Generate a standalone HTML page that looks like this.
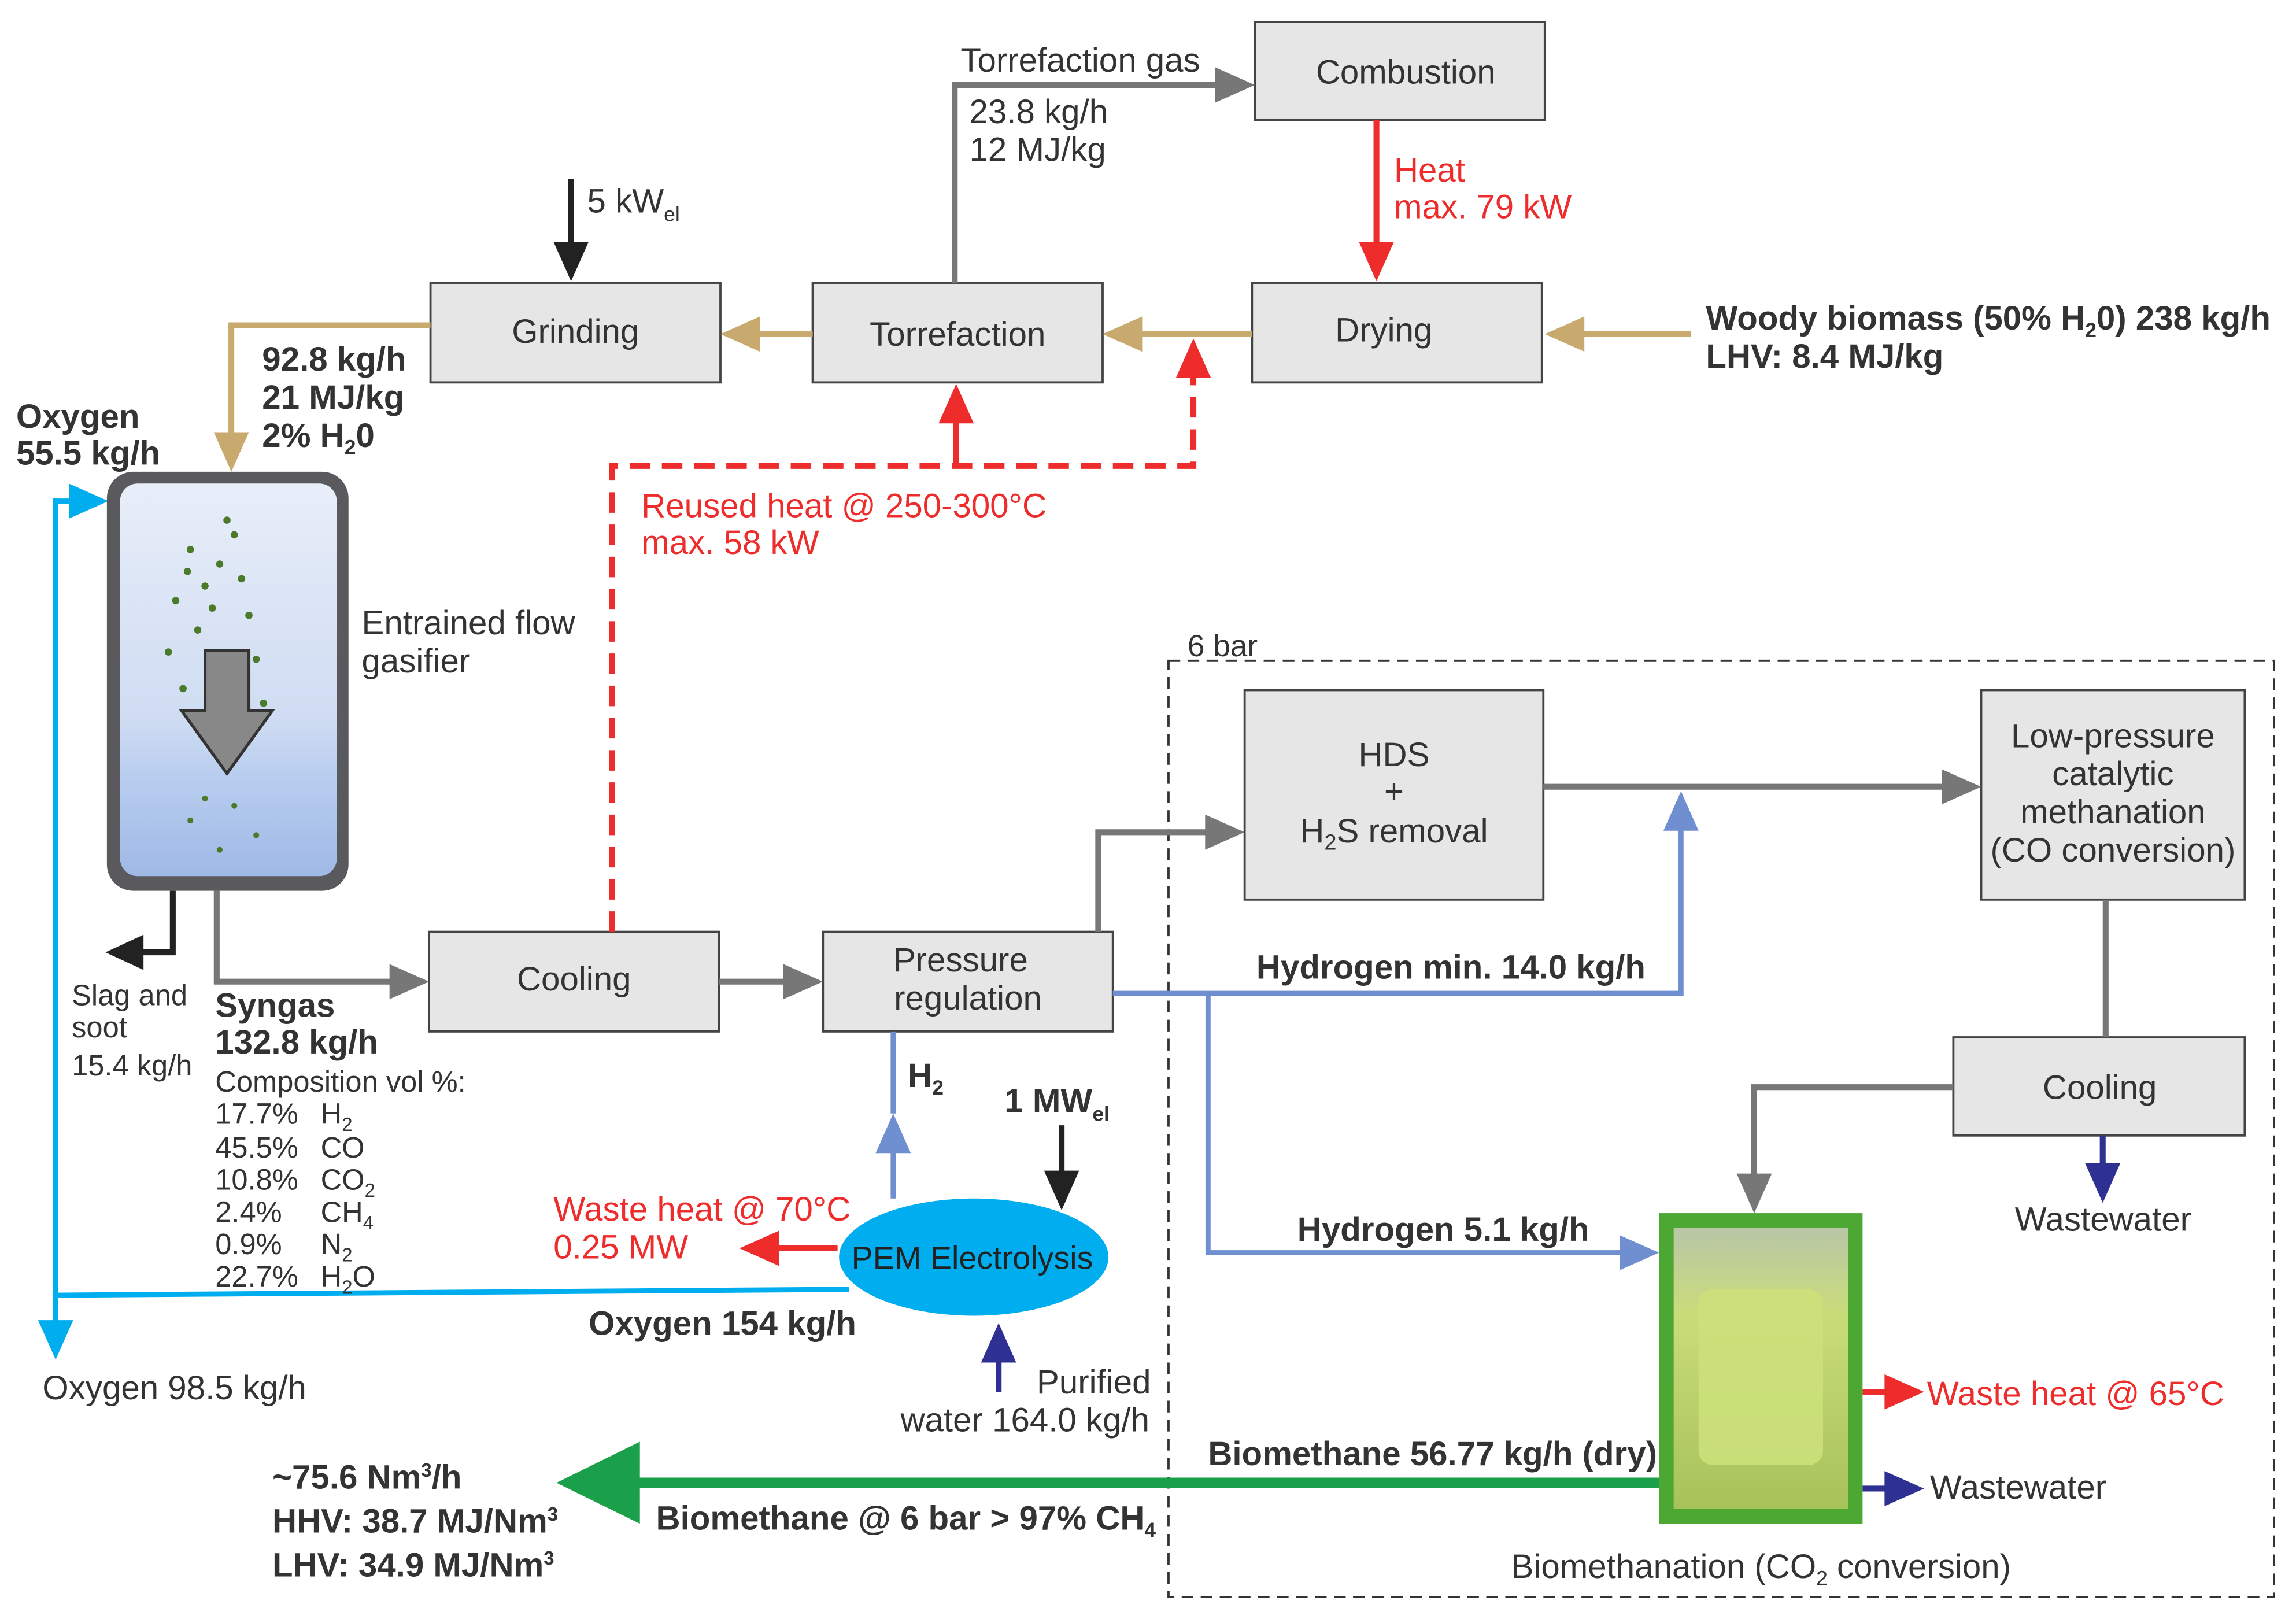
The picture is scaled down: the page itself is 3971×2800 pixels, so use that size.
<!DOCTYPE html>
<html><head><meta charset="utf-8"><style>
html,body{margin:0;padding:0;background:#fff;}
svg{display:block;}
text{font-family:"Liberation Sans",sans-serif;}
</style></head><body>
<svg width="3971" height="2800" viewBox="0 0 1568 1105" preserveAspectRatio="none" xmlns="http://www.w3.org/2000/svg">
<defs>
<linearGradient id="gb" x1="0" y1="0" x2="0" y2="1">
<stop offset="0" stop-color="#e8eef9"/><stop offset="0.6" stop-color="#cfdcf2"/><stop offset="0.75" stop-color="#b8cdef"/><stop offset="1" stop-color="#9fb9e6"/></linearGradient>
<linearGradient id="gr" x1="0" y1="0" x2="0" y2="1">
<stop offset="0" stop-color="#b9c6a8"/><stop offset="0.3" stop-color="#c9dc7a"/><stop offset="1" stop-color="#a8c25a"/></linearGradient>
</defs>
<rect width="1568" height="1105" fill="#fff"/>
<rect x="798" y="451" width="755" height="639" fill="none" stroke="#333" stroke-width="1.5" stroke-dasharray="8,5"/>
<text x="811" y="448" font-size="21" fill="#333">6 bar</text>
<g fill="#e6e6e7" stroke="#444" stroke-width="1.5">
<rect x="857" y="15" width="198" height="67"/>
<rect x="294" y="193" width="198" height="68"/>
<rect x="555" y="193" width="198" height="68"/>
<rect x="855" y="193" width="198" height="68"/>
<rect x="293" y="636" width="198" height="68"/>
<rect x="562" y="636" width="198" height="68"/>
<rect x="850" y="471" width="204" height="143"/>
<rect x="1353" y="471" width="180" height="143"/>
<rect x="1334" y="708" width="199" height="67"/>
</g>
<g font-size="23" fill="#333" text-anchor="middle">
<text x="960" y="57">Combustion</text>
<text x="393" y="234">Grinding</text>
<text x="654" y="236">Torrefaction</text>
<text x="945" y="233">Drying</text>
<text x="392" y="676">Cooling</text>
<text x="656" y="663">Pressure</text><text x="661" y="689">regulation</text>
<text x="952" y="523">HDS</text><text x="952" y="548">+</text><text x="952" y="575">H<tspan font-size="15" dy="5">2</tspan><tspan dy="-5">S removal</tspan></text>
<text x="1443" y="510">Low-pressure</text><text x="1443" y="536">catalytic</text><text x="1443" y="562">methanation</text><text x="1443" y="588">(CO conversion)</text>
<text x="1434" y="750">Cooling</text>
</g>
<g stroke="#c8a96e" stroke-width="4" fill="none">
<line x1="1155" y1="228" x2="1080" y2="228"/>
<line x1="855" y1="228" x2="778" y2="228"/>
<line x1="555" y1="228" x2="517" y2="228"/>
<polyline points="294,222 158,222 158,297"/>
</g>
<g fill="#c8a96e">
<polygon points="1055,228 1082,216 1082,240"/>
<polygon points="753,228 780,216 780,240"/>
<polygon points="492,228 519,216 519,240"/>
<polygon points="158,322 146,295 170,295"/>
</g>
<g stroke="#777" stroke-width="4" fill="none">
<polyline points="652,193 652,58 832,58"/>
<polyline points="148,608 148,670 268,670"/>
<line x1="491" y1="670" x2="537" y2="670"/>
<polyline points="750,636 750,568 825,568"/>
<line x1="1054" y1="537" x2="1328" y2="537"/>
<line x1="1438" y1="614" x2="1438" y2="708"/>
<polyline points="1334,742 1198,742 1198,803"/>
</g>
<g fill="#777">
<polygon points="857,58 830,46 830,70"/>
<polygon points="293,670 266,658 266,682"/>
<polygon points="562,670 535,658 535,682"/>
<polygon points="850,568 823,556 823,580"/>
<polygon points="1353,537 1326,525 1326,549"/>
<polygon points="1198,828 1186,801 1210,801"/>
</g>
<g stroke="#222" stroke-width="4" fill="none">
<line x1="390" y1="122" x2="390" y2="168"/>
<polyline points="118,608 118,650 95,650"/>
<line x1="725" y1="768" x2="725" y2="802"/>
</g>
<g fill="#222">
<polygon points="390,192 378,165 402,165"/>
<polygon points="72,650 98,638 98,662"/>
<polygon points="725,826 713,799 737,799"/>
</g>
<g stroke="#2e3192" stroke-width="4" fill="none">
<line x1="1436" y1="775" x2="1436" y2="797"/>
<line x1="1272" y1="1016" x2="1290" y2="1016"/>
<line x1="682" y1="950" x2="682" y2="927"/>
</g>
<g fill="#2e3192">
<polygon points="1436,821 1424,794 1448,794"/>
<polygon points="1314,1016 1287,1004 1287,1028"/>
<polygon points="682,903 670,930 694,930"/>
</g>
<g stroke="#ee2c2c" stroke-width="4" fill="none">
<line x1="940" y1="82" x2="940" y2="168"/>
<polyline points="418,636 418,318 815,318 815,258" stroke-dasharray="14,8"/>
<line x1="653" y1="318" x2="653" y2="285"/>
<line x1="572" y1="852" x2="530" y2="852"/>
<line x1="1272" y1="950" x2="1290" y2="950"/>
</g>
<g fill="#ee2c2c">
<polygon points="940,192 928,165 952,165"/>
<polygon points="815,231 803,258 827,258"/>
<polygon points="653,262 641,289 665,289"/>
<polygon points="505,852 532,840 532,864"/>
<polygon points="1314,950 1287,938 1287,962"/>
</g>
<g stroke="#6f8fd0" stroke-width="3.5" fill="none">
<polyline points="760,678 1148,678 1148,565"/>
<polyline points="825,678 825,855 1108,855"/>
<line x1="610" y1="818" x2="610" y2="785"/>
<line x1="610" y1="760" x2="610" y2="704"/>
</g>
<g fill="#6f8fd0">
<polygon points="1148,540 1136,567 1160,567"/>
<polygon points="1133,855 1106,843 1106,867"/>
<polygon points="610,760 598,787 622,787"/>
</g>
<g stroke="#00aeef" stroke-width="3.5" fill="none">
<polyline points="580,880 38,884"/>
<line x1="38" y1="340" x2="38" y2="905"/>
<line x1="38" y1="342" x2="50" y2="342"/>
</g>
<g fill="#00aeef">
<polygon points="74,342 47,330 47,354"/>
<polygon points="38,928 26,901 50,901"/>
</g>
<rect x="73" y="322" width="165" height="286" rx="18" fill="#5a5a5e"/>
<rect x="82" y="330" width="148" height="268" rx="12" fill="url(#gb)"/>
<g fill="#4a7a2a">
<circle cx="130" cy="375" r="2.5"/><circle cx="150" cy="385" r="2.5"/><circle cx="140" cy="400" r="2.5"/><circle cx="160" cy="365" r="2.5"/><circle cx="120" cy="410" r="2.5"/><circle cx="170" cy="420" r="2.5"/><circle cx="135" cy="430" r="2.5"/><circle cx="115" cy="445" r="2.5"/><circle cx="175" cy="450" r="2.5"/><circle cx="125" cy="470" r="2.5"/><circle cx="180" cy="480" r="2.5"/><circle cx="155" cy="355" r="2.5"/><circle cx="145" cy="415" r="2.5"/><circle cx="128" cy="390" r="2.5"/><circle cx="165" cy="395" r="2.5"/><circle cx="140" cy="545" r="2"/><circle cx="160" cy="550" r="2"/><circle cx="130" cy="560" r="2"/><circle cx="175" cy="570" r="2"/><circle cx="150" cy="580" r="2"/>
</g>
<polygon points="140,444 170,444 170,485 186,485 155,528 124,485 140,485" fill="#888" stroke="#333" stroke-width="2"/>
<ellipse cx="665" cy="858" rx="92" ry="40" fill="#00aeef"/>
<text x="664" y="866" font-size="22" fill="#222" text-anchor="middle">PEM Electrolysis</text>
<rect x="1133" y="828" width="139" height="212" fill="#4ca832"/>
<rect x="1143" y="838" width="119" height="192" fill="url(#gr)"/>
<rect x="1160" y="880" width="85" height="120" rx="10" fill="#cbe07a" opacity="0.9"/>
<line x1="1133" y1="1012" x2="435" y2="1012" stroke="#1aa04a" stroke-width="7"/>
<polygon points="380,1012 437,984 437,1040" fill="#1aa04a"/>
<g font-size="23" fill="#333">
<text x="656" y="49">Torrefaction gas</text>
<text x="662" y="84">23.8 kg/h</text>
<text x="662" y="110">12 MJ/kg</text>
<text x="401" y="145">5 kW<tspan font-size="14" dy="6">el</tspan></text>
<text x="247" y="433">Entrained flow</text>
<text x="247" y="459">gasifier</text>
<text x="49" y="686" font-size="20">Slag and</text>
<text x="49" y="708" font-size="20">soot</text>
<text x="49" y="734" font-size="20">15.4 kg/h</text>
<text x="147" y="745" font-size="20">Composition vol %:</text>
<g font-size="20">
<text x="147" y="767">17.7%</text><text x="219" y="767">H<tspan font-size="13" dy="5">2</tspan></text>
<text x="147" y="790">45.5%</text><text x="219" y="790">CO</text>
<text x="147" y="812">10.8%</text><text x="219" y="812">CO<tspan font-size="13" dy="5">2</tspan></text>
<text x="147" y="834">2.4%</text><text x="219" y="834">CH<tspan font-size="13" dy="5">4</tspan></text>
<text x="147" y="856">0.9%</text><text x="219" y="856">N<tspan font-size="13" dy="5">2</tspan></text>
<text x="147" y="878">22.7%</text><text x="219" y="878">H<tspan font-size="13" dy="5">2</tspan><tspan dy="-5">O</tspan></text>
</g>
<text x="29" y="955">Oxygen 98.5 kg/h</text>
<text x="708" y="951">Purified</text>
<text x="615" y="977">water 164.0 kg/h</text>
<text x="1376" y="840">Wastewater</text>
<text x="1318" y="1023">Wastewater</text>
<text x="1032" y="1077">Biomethanation (CO<tspan font-size="14" dy="5">2</tspan><tspan dy="-5"> conversion)</tspan></text>
</g>
<g font-size="23" fill="#ee2c2c">
<text x="952" y="124">Heat</text>
<text x="952" y="149">max. 79 kW</text>
<text x="438" y="353">Reused heat @ 250-300°C</text>
<text x="438" y="378">max. 58 kW</text>
<text x="378" y="833">Waste heat @ 70°C</text>
<text x="378" y="859">0.25 MW</text>
<text x="1316" y="959">Waste heat @ 65°C</text>
</g>
<g font-size="23" fill="#333" font-weight="bold">
<text x="1165" y="225">Woody biomass (50% H<tspan font-size="14" dy="5">2</tspan><tspan dy="-5">0) 238 kg/h</tspan></text>
<text x="1165" y="251">LHV: 8.4 MJ/kg</text>
<text x="179" y="253">92.8 kg/h</text>
<text x="179" y="279">21 MJ/kg</text>
<text x="179" y="305">2% H<tspan font-size="14" dy="5">2</tspan><tspan dy="-5">0</tspan></text>
<text x="11" y="292">Oxygen</text>
<text x="11" y="317">55.5 kg/h</text>
<text x="147" y="694">Syngas</text>
<text x="147" y="719">132.8 kg/h</text>
<text x="858" y="668">Hydrogen min. 14.0 kg/h</text>
<text x="620" y="742">H<tspan font-size="14" dy="5">2</tspan></text>
<text x="686" y="759">1 MW<tspan font-size="14" dy="6">el</tspan></text>
<text x="886" y="847">Hydrogen 5.1 kg/h</text>
<text x="402" y="911">Oxygen 154 kg/h</text>
<text x="825" y="1000">Biomethane 56.77 kg/h (dry)</text>
<text x="448" y="1044">Biomethane @ 6 bar &gt; 97% CH<tspan font-size="14" dy="5">4</tspan></text>
<text x="186" y="1016">~75.6 Nm<tspan font-size="13" dy="-8">3</tspan><tspan dy="8">/h</tspan></text>
<text x="186" y="1046">HHV: 38.7 MJ/Nm<tspan font-size="13" dy="-8">3</tspan></text>
<text x="186" y="1076">LHV: 34.9 MJ/Nm<tspan font-size="13" dy="-8">3</tspan></text>
</g>
</svg>
</body></html>
